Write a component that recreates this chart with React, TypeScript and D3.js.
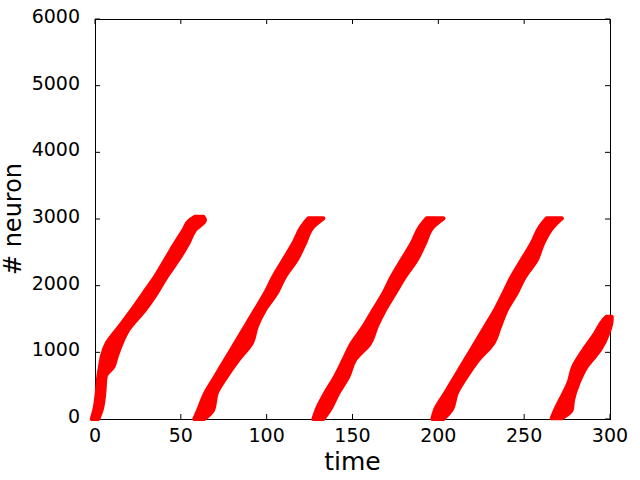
import React from "react";
import * as d3 from "d3";

// tick values
const xTicks = [0, 50, 100, 150, 200, 250, 300];
const yTicks = [0, 1000, 2000, 3000, 4000, 5000, 6000];

// Each firing wave: neuron index levels and the left/right spike-time edges of the band
const wave1N = [0, 140, 385, 635, 785, 935, 1135, 1335, 1635, 1885, 2135, 2385, 2635, 2835, 2985, 3035];
const wave1L = [-1.9, -0.4, 1.0, 1.9, 2.9, 3.9, 6.8, 12.6, 21.4, 28.2, 35.0, 40.8, 46.6, 51.5, 55.3, 58.3];
const wave1R = [1.9, 3.9, 5.4, 6.2, 10.7, 12.6, 15.5, 19.4, 29.1, 35.9, 41.8, 48.5, 54.4, 58.3, 64.1, 63.1];

const wave2N = [0, 140, 385, 635, 885, 1135, 1385, 1635, 1885, 2135, 2385, 2635, 2885, 3010];
const wave2L = [57.8, 60.2, 64.1, 69.9, 75.7, 81.6, 87.4, 93.2, 99.0, 103.9, 109.7, 115.5, 120.4, 124.3];
const wave2R = [63.7, 68.9, 70.9, 76.7, 83.5, 91.3, 94.2, 99.0, 105.8, 110.7, 117.5, 122.3, 127.2, 133.0];

const wave3N = [0, 140, 385, 635, 885, 1135, 1385, 1635, 1885, 2135, 2385, 2635, 2885, 3010];
const wave3L = [127.2, 129.1, 134.0, 139.8, 144.7, 149.5, 156.3, 162.1, 168.0, 172.8, 178.6, 184.5, 189.3, 193.2];
const wave3R = [133.0, 136.9, 141.7, 147.6, 151.5, 160.2, 164.1, 168.9, 174.8, 180.6, 187.4, 192.2, 197.1, 203.0];

const wave4N = [0, 140, 385, 635, 885, 1135, 1385, 1635, 1885, 2135, 2385, 2635, 2885, 3010];
const wave4L = [196.5, 198.1, 203.9, 209.7, 215.5, 221.4, 227.2, 233.0, 237.9, 242.7, 248.5, 254.4, 259.2, 263.1];
const wave4R = [202.9, 207.8, 210.7, 216.5, 223.3, 232.0, 235.9, 239.8, 245.6, 250.5, 257.3, 261.1, 267.0, 272.0];

const wave5N = [10, 135, 285, 535, 785, 1035, 1285, 1485, 1535];
const wave5L = [266.0, 268.0, 270.9, 275.7, 278.6, 284.5, 291.3, 296.1, 298.0];
const wave5R = [271.8, 277.7, 278.5, 281.6, 286.4, 294.2, 299.0, 301.0, 301.0];

const waves = [
  { n: wave1N, l: wave1L, r: wave1R },
  { n: wave2N, l: wave2L, r: wave2R },
  { n: wave3N, l: wave3L, r: wave3R },
  { n: wave4N, l: wave4L, r: wave4R },
  { n: wave5N, l: wave5L, r: wave5R },
];

const W = 640;
const H = 480;
const left = 95;
const right = 610;
const top = 19;
const bottom = 419;
const FONT = "DejaVu Sans, sans-serif";

export default function App() {
  const x = d3.scaleLinear().domain([0, 300]).range([left, right]);
  const y = d3.scaleLinear().domain([0, 6000]).range([bottom, top]);

  type P = { n: number; l: number; r: number };
  const area = d3
    .area<P>()
    .y((d) => y(d.n))
    .x0((d) => x(d.l))
    .x1((d) => x(d.r))
    .curve(d3.curveMonotoneY);

  const tl = 5;

  return (
    <svg
      width={W}
      height={H}
      style={{ position: "absolute", left: 0, top: 0, background: "#fff" }}
    >
      <rect x={0} y={0} width={W} height={H} fill="#fff" />
      {xTicks.map((t) => (
        <g key={"x" + t}>
          <line x1={x(t)} x2={x(t)} y1={bottom} y2={bottom - tl} stroke="#000" />
          <line x1={x(t)} x2={x(t)} y1={top} y2={top + tl} stroke="#000" />
          <text
            x={x(t)}
            y={bottom + 23}
            textAnchor="middle"
            fontFamily={FONT}
            fontSize={19}
            fill="#000"
          >
            {t}
          </text>
        </g>
      ))}
      {yTicks.map((t) => (
        <g key={"y" + t}>
          <line x1={left} x2={left + tl} y1={y(t)} y2={y(t)} stroke="#000" />
          <line x1={right} x2={right - tl} y1={y(t)} y2={y(t)} stroke="#000" />
          <text
            x={left - 15}
            y={y(t) + 4}
            textAnchor="end"
            fontFamily={FONT}
            fontSize={19}
            fill="#000"
          >
            {t}
          </text>
        </g>
      ))}
      <rect
        x={left + 0.5}
        y={top + 0.5}
        width={right - left}
        height={bottom - top}
        fill="none"
        stroke="#000"
        strokeWidth={1}
      />
      {waves.map((w, i) => {
        const pts: P[] = w.n.map((n, k) => ({ n, l: w.l[k], r: w.r[k] }));
        return (
          <path
            key={i}
            d={area(pts) || ""}
            fill="#ff0000"
            stroke="#ff0000"
            strokeWidth={4}
            strokeLinejoin="round"
          />
        );
      })}
      <text
        x={(left + right) / 2}
        y={470}
        textAnchor="middle"
        fontFamily={FONT}
        fontSize={25}
        fill="#000"
      >
        time
      </text>
      <text
        transform={`translate(21, ${(top + bottom) / 2}) rotate(-90)`}
        textAnchor="middle"
        fontFamily={FONT}
        fontSize={24}
        fill="#000"
      >
        # neuron
      </text>
    </svg>
  );
}
